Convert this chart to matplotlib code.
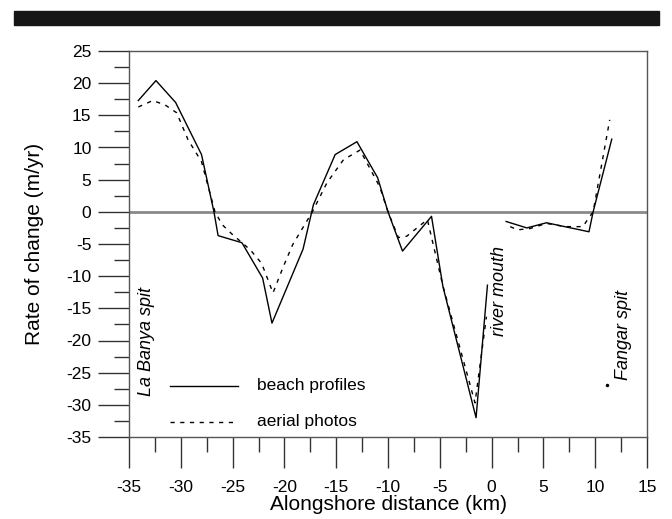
import matplotlib.pyplot as plt
from matplotlib.patches import Rectangle
from matplotlib.ticker import MultipleLocator

plt.rcParams["font.family"] = ["Liberation Sans", "DejaVu Sans"]
plt.rcParams["axes.unicode_minus"] = False

# beach profiles, west part (La Banya spit to river mouth)
profile_x_west = [-34.1, -32.4, -30.5, -28.0, -26.8, -26.4, -24.1, -22.1, -21.2,
                  -18.2, -17.2, -15.1, -13.0, -11.0, -10.0, -8.6, -5.8, -4.7,
                  -1.5, -0.4]
profile_y_west = [17.3, 20.4, 17.0, 8.9, 0.0, -3.7, -4.8, -10.3, -17.3,
                  -5.8, 1.1, 8.9, 10.9, 5.3, 0.0, -6.1, -0.7, -11.6,
                  -32.0, -11.4]
# beach profiles, east part (river mouth to Fangar spit)
profile_x_east = [1.4, 3.4, 5.3, 9.4, 9.8, 11.6]
profile_y_east = [-1.5, -2.5, -1.7, -3.1, 0.0, 11.3]

# aerial photos
photo_x_west = [-34.1, -32.7, -31.5, -30.4, -29.3, -28.0, -26.7, -26.0, -25.1,
                -23.3, -22.2, -21.1, -20.1, -19.2, -17.3, -15.9, -14.3, -12.7,
                -10.8, -10.0, -9.0, -8.2, -6.2, -4.7, -1.6, -0.5]
photo_y_west = [16.3, 17.3, 16.6, 15.4, 11.2, 7.8, 0.0, -2.0, -3.4,
                -5.9, -8.0, -12.6, -8.5, -5.1, 0.0, 4.5, 8.1, 9.6,
                3.9, 0.0, -4.0, -3.8, -1.2, -11.5, -29.7, -16.3]
photo_x_east = [1.8, 2.5, 3.7, 5.3, 7.1, 8.8, 9.8, 11.4]
photo_y_east = [-2.3, -2.8, -2.6, -1.8, -2.3, -2.3, 0.0, 14.3]

# lone aerial-photo point near Fangar spit
photo_x_lone = [11.1]
photo_y_lone = [-26.9]

fig = plt.figure(figsize=(6.72, 5.19), dpi=100)
fig.patches.append(Rectangle((14 / 672, 1 - 25 / 519), 645 / 672, 14 / 519,
                             transform=fig.transFigure, color="#161616"))
ax = fig.add_axes([129 / 672, 1 - 437 / 519, 518 / 672, 386 / 519])

ax.axhline(0, color="#8a8a8a", lw=2, zorder=1)
ax.plot(profile_x_west, profile_y_west, color="black", lw=1)
ax.plot(profile_x_east, profile_y_east, color="black", lw=1)
ax.plot(photo_x_west, photo_y_west, color="black", lw=1, ls=(0, (3, 4)))
ax.plot(photo_x_east, photo_y_east, color="black", lw=1, ls=(0, (3, 4)))
ax.plot(photo_x_lone, photo_y_lone, "o", color="black", ms=1.5)

ax.set_xlim(-35, 15)
ax.set_ylim(-35, 25)
ax.xaxis.set_major_locator(MultipleLocator(5))
ax.xaxis.set_minor_locator(MultipleLocator(2.5))
ax.yaxis.set_major_locator(MultipleLocator(5))
ax.yaxis.set_minor_locator(MultipleLocator(2.5))
ax.tick_params(which="major", direction="out", length=22, width=1, color="#333",
               labelsize=12.5, pad=9)
ax.tick_params(which="minor", direction="out", length=11, width=1, color="#333")
ax.tick_params(axis="y", pad=5)
for s in ax.spines.values():
    s.set_color("#555")
    s.set_linewidth(1)

ax.set_xlabel("Alongshore distance (km)", fontsize=15, labelpad=0)
ax.set_ylabel("Rate of change (m/yr)", fontsize=15, labelpad=16)

ax.text(-33.3, -20.1, "La Banya spit", rotation=90, style="italic", fontsize=13,
        ha="center", va="center")
ax.text(0.8, -12.3, "river mouth", rotation=90, style="italic", fontsize=13,
        ha="center", va="center")
ax.text(12.7, -19.1, "Fangar spit", rotation=90, style="italic", fontsize=13,
        ha="center", va="center")

# legend drawn by hand like the original
ax.plot([-31, -24.5], [-27, -27], color="black", lw=1)
ax.plot([-31, -25], [-32.6, -32.6], color="black", lw=1, ls=(0, (3, 4)))
ax.text(-22.6, -27, "beach profiles", fontsize=12.5, va="center")
ax.text(-22.6, -32.6, "aerial photos", fontsize=12.5, va="center")

fig.savefig("out.png", dpi=100)
